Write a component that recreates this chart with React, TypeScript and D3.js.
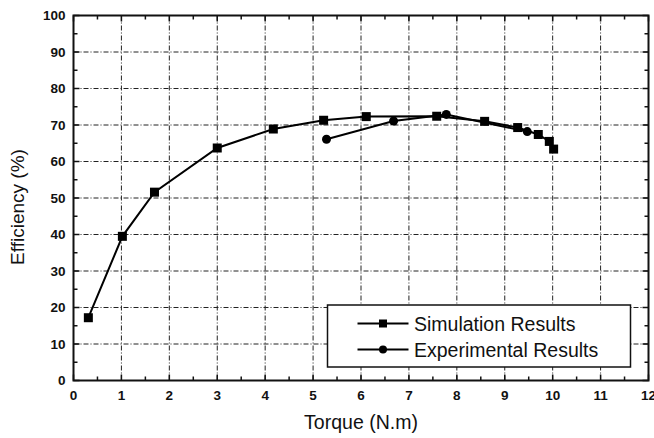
import { useMemo } from "react";
import { scaleLinear, line as d3Line, range } from "d3";

// Simulation results (torque N.m, efficiency %)
const simTorque = [0.31, 1.02, 1.69, 3.0, 4.17, 5.22, 6.11, 7.58, 8.58, 9.27, 9.7, 9.93, 10.02];
const simEff = [17.2, 39.5, 51.6, 63.7, 68.9, 71.3, 72.3, 72.4, 71.0, 69.3, 67.4, 65.5, 63.4];

// Experimental results
const expTorque = [5.28, 6.68, 7.78, 9.47];
const expEff = [66.1, 71.1, 72.9, 68.2];

const xTicks = [0, 1, 2, 3, 4, 5, 6, 7, 8, 9, 10, 11, 12];
const yTicks = [0, 10, 20, 30, 40, 50, 60, 70, 80, 90, 100];

const legendLabels = ["Simulation Results", "Experimental Results"];

const W = 654;
const H = 438;
const M = { left: 73.5, right: 5.5, top: 15.5, bottom: 57.5 };

export default function App() {
  const x = useMemo(() => scaleLinear().domain([0, 12]).range([M.left, W - M.right]), []);
  const y = useMemo(() => scaleLinear().domain([0, 100]).range([H - M.bottom, M.top]), []);

  const lineGen = d3Line<[number, number]>()
    .x((d) => x(d[0]))
    .y((d) => y(d[1]));

  const sim: [number, number][] = simTorque.map((t, i) => [t, simEff[i]]);
  const exp: [number, number][] = expTorque.map((t, i) => [t, expEff[i]]);

  const x0 = x(0);
  const x1 = x(12);
  const y0 = y(0);
  const y1 = y(100);
  const minorX = range(0.5, 12, 1);
  const minorY = range(5, 100, 10);
  const gridDash = "5,2,1,2";
  const font = "Arial, 'Liberation Sans', Helvetica, sans-serif";

  const lg = { x: 327.5, y: 305, w: 303, h: 62 };

  return (
    <svg
      width={W}
      height={H}
      style={{ position: "absolute", left: 0, top: 0, background: "#fff" }}
      fontFamily={font}
    >
      <rect x={0} y={0} width={W} height={H} fill="#fff" />
      {/* grid */}
      <g stroke="#222" strokeWidth={1} strokeDasharray={gridDash}>
        {xTicks.slice(1, -1).map((t) => (
          <line key={"gx" + t} x1={x(t)} x2={x(t)} y1={y0} y2={y1} />
        ))}
        {yTicks.slice(1, -1).map((t) => (
          <line key={"gy" + t} x1={x0} x2={x1} y1={y(t)} y2={y(t)} />
        ))}
      </g>
      {/* ticks (inward) */}
      <g stroke="#111" strokeWidth={1.5}>
        {xTicks.map((t) => (
          <g key={"tx" + t}>
            <line x1={x(t)} x2={x(t)} y1={y0} y2={y0 - 6} />
            <line x1={x(t)} x2={x(t)} y1={y1} y2={y1 + 6} />
          </g>
        ))}
        {minorX.map((t) => (
          <g key={"mx" + t}>
            <line x1={x(t)} x2={x(t)} y1={y0} y2={y0 - 4} />
            <line x1={x(t)} x2={x(t)} y1={y1} y2={y1 + 4} />
          </g>
        ))}
        {yTicks.map((t) => (
          <g key={"ty" + t}>
            <line x1={x0} x2={x0 + 6} y1={y(t)} y2={y(t)} />
            <line x1={x1} x2={x1 - 6} y1={y(t)} y2={y(t)} />
          </g>
        ))}
        {minorY.map((t) => (
          <g key={"my" + t}>
            <line x1={x0} x2={x0 + 4} y1={y(t)} y2={y(t)} />
            <line x1={x1} x2={x1 - 4} y1={y(t)} y2={y(t)} />
          </g>
        ))}
      </g>
      {/* frame */}
      <rect x={x0} y={y1} width={x1 - x0} height={y0 - y1} fill="none" stroke="#111" strokeWidth={2} />
      {/* tick labels */}
      <g fontSize={13.5} fontWeight="bold" fill="#111">
        {xTicks.map((t) => (
          <text key={"lx" + t} x={x(t)} y={y0 + 19.5} textAnchor="middle">
            {t}
          </text>
        ))}
        {yTicks.map((t) => (
          <text key={"ly" + t} x={x0 - 8} y={y(t) + 4.5} textAnchor="end">
            {t}
          </text>
        ))}
      </g>
      {/* axis titles */}
      <text x={(x0 + x1) / 2} y={429} textAnchor="middle" fontSize={19.5} fill="#111">
        Torque (N.m)
      </text>
      <text
        transform={`translate(24,${207}) rotate(-90)`}
        textAnchor="middle"
        fontSize={19}
        fill="#111"
      >
        Efficiency (%)
      </text>
      {/* series */}
      <path d={lineGen(sim) ?? ""} fill="none" stroke="#000" strokeWidth={2} />
      <path d={lineGen(exp) ?? ""} fill="none" stroke="#000" strokeWidth={2} />
      {sim.map((d, i) => (
        <rect key={"s" + i} x={x(d[0]) - 4.5} y={y(d[1]) - 4.5} width={9} height={9} fill="#000" />
      ))}
      {exp.map((d, i) => (
        <circle key={"e" + i} cx={x(d[0])} cy={y(d[1])} r={4.5} fill="#000" />
      ))}
      {/* legend */}
      <rect x={lg.x} y={lg.y} width={lg.w} height={lg.h} fill="#fff" stroke="#111" strokeWidth={1.5} />
      {legendLabels.map((label, i) => {
        const cy = lg.y + 18.5 + i * 26;
        return (
          <g key={label}>
            <line x1={357.5} x2={408.5} y1={cy} y2={cy} stroke="#000" strokeWidth={2} />
            {i === 0 ? (
              <rect x={383 - 4} y={cy - 4} width={8} height={8} fill="#000" />
            ) : (
              <circle cx={383} cy={cy} r={4} fill="#000" />
            )}
            <text x={414} y={cy + 7} fontSize={19.5} fill="#111">
              {label}
            </text>
          </g>
        );
      })}
    </svg>
  );
}
